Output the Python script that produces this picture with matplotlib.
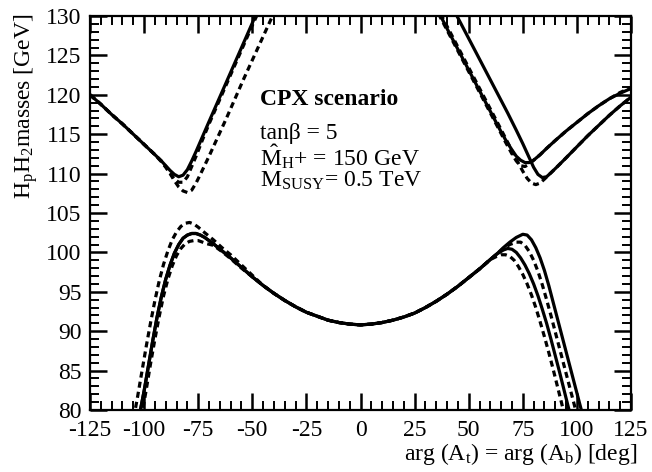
import matplotlib
matplotlib.use("Agg")
import matplotlib.pyplot as plt
from matplotlib.ticker import MultipleLocator

plt.rcParams["font.family"] = ["Liberation Serif", "DejaVu Serif"]
plt.rcParams["mathtext.fontset"] = "custom"
plt.rcParams["mathtext.rm"] = "Liberation Serif"
plt.rcParams["mathtext.it"] = "Liberation Serif:italic"
plt.rcParams["mathtext.bf"] = "Liberation Serif:bold"
plt.rcParams["axes.unicode_minus"] = False

# ---------------- H1 (lower mass) ----------------
# central part shared by all four H1 curves
h1_core_x = [-45, -40, -35, -30, -25, -20, -15, -10, -5, 0, 5, 10, 15, 20, 25, 30,
             35, 40, 45, 50, 55, 60]
h1_core_y = [95.8, 94.8, 93.9, 93.1, 92.4, 91.9, 91.4, 91.1, 90.9, 90.8, 90.9, 91.1,
             91.4, 91.8, 92.3, 93.0, 93.8, 94.7, 95.7, 96.8, 97.9, 99.1]

# left wings (negative phases)
h1_solid_left_x = [-102.4, -100, -98, -96, -94, -92, -90, -88, -86, -84, -82, -80, -78,
                   -76, -74, -72, -68, -64, -60, -55, -50]
h1_solid_left_y = [79.0, 82.4, 85.6, 88.8, 91.8, 94.4, 96.6, 98.4, 99.9, 101.0, 101.8,
                   102.2, 102.4, 102.4, 102.2, 101.9, 101.1, 100.2, 99.3, 98.1, 96.9]
h1_dash1_left_x = [-104.8, -103, -101, -99, -97, -95, -93, -91, -89, -87, -85, -83, -81,
                   -79, -77, -75, -72, -68, -64, -60, -55, -50]
h1_dash1_left_y = [79.0, 81.7, 84.9, 88.1, 91.1, 93.9, 96.4, 98.5, 100.2, 101.6, 102.6,
                   103.3, 103.7, 103.8, 103.6, 103.2, 102.5, 101.6, 100.6, 99.7, 98.4, 97.1]
h1_dash2_left_x = [-101.3, -99, -97, -95, -93, -91, -89, -87, -85, -83, -81, -79, -77,
                   -75, -73, -71, -68, -64, -60, -55, -50]
h1_dash2_left_y = [79.0, 82.6, 85.9, 89.0, 91.9, 94.5, 96.6, 98.3, 99.6, 100.5, 101.1,
                   101.4, 101.5, 101.5, 101.3, 101.1, 100.9, 100.1, 99.2, 98.0, 96.9]

# right wings (positive phases)
h1_solid_a_right_x = [63, 66, 69, 72, 75, 77, 79, 81, 83, 85, 87, 89, 91, 93, 95, 97,
                      99, 101, 103]
h1_solid_a_right_y = [99.8, 100.6, 101.3, 101.9, 102.3, 102.2, 101.6, 100.6, 99.3, 97.7,
                      95.8, 93.7, 91.6, 89.5, 87.4, 85.3, 83.2, 81.1, 79.0]
h1_solid_b_right_x = [63, 66, 68, 70, 72, 74, 76, 78, 80, 82, 84, 86, 88, 90, 92, 94,
                      96, 97.5]
h1_solid_b_right_y = [99.8, 100.3, 100.5, 100.4, 100.0, 99.3, 98.4, 97.3, 96.0, 94.5,
                      92.8, 91.0, 89.0, 86.9, 84.8, 82.6, 80.4, 78.8]
h1_dash1_right_x = [63, 66, 69, 72, 74, 76, 78, 80, 82, 84, 86, 88, 90, 92, 94, 96, 98,
                    100, 101]
h1_dash1_right_y = [99.8, 100.5, 101.0, 101.3, 101.3, 100.9, 100.1, 99.0, 97.6, 95.9,
                    94.0, 92.0, 89.9, 87.8, 85.7, 83.6, 81.5, 79.4, 78.4]
h1_dash2_right_x = [63, 65, 67, 69, 71, 73, 75, 77, 79, 81, 83, 85, 87, 89, 91, 93, 95]
h1_dash2_right_y = [99.5, 99.7, 99.7, 99.5, 99.0, 98.2, 97.2, 96.0, 94.6, 93.0, 91.2,
                    89.3, 87.3, 85.2, 83.0, 80.8, 78.6]

# ---------------- H2 (upper mass) ----------------
h2_solid_left_x = [-125, -120, -115, -110, -105, -100, -95, -92, -90, -88, -86, -84,
                   -82, -80, -78, -76, -73, -70, -66, -62, -58, -54, -50, -48.5]
h2_solid_left_y = [120.0, 118.8, 117.5, 116.3, 115.0, 113.7, 112.4, 111.6, 111.0, 110.4,
                   109.9, 109.6, 109.8, 110.5, 111.6, 112.8, 114.7, 116.6, 119.1, 121.6,
                   124.1, 126.6, 129.1, 130.1]
h2_dash1_left_x = [-125, -120, -115, -110, -105, -100, -95, -92, -90, -88, -86, -84,
                   -82, -80, -78, -76, -73, -70, -66, -62, -58, -54, -50, -47]
h2_dash1_left_y = [120.0, 118.8, 117.5, 116.3, 115.0, 113.7, 112.4, 111.6, 110.9, 110.1,
                   109.3, 108.9, 108.9, 109.6, 110.9, 112.2, 114.3, 116.3, 118.8, 121.3,
                   123.8, 126.3, 128.8, 130.6]
h2_dash2_left_x = [-125, -120, -115, -110, -105, -100, -95, -92, -90, -88, -86, -84,
                   -82, -80, -78, -76, -74, -70, -66, -62, -58, -54, -50, -46, -42, -40]
h2_dash2_left_y = [120.0, 118.8, 117.5, 116.3, 115.0, 113.7, 112.4, 111.5, 110.8, 110.0,
                   109.1, 108.3, 107.8, 107.6, 107.9, 108.8, 109.9, 112.2, 114.6, 117.0,
                   119.5, 122.0, 124.4, 126.8, 129.2, 130.4]

h2_solid_a_right_x = [36.5, 40, 44, 48, 52, 56, 60, 64, 67, 70, 72, 74, 76, 78, 80, 83,
                      86, 90, 95, 100, 105, 110, 115, 120, 125]
h2_solid_a_right_y = [130.3, 128.4, 126.3, 124.2, 122.1, 120.0, 117.9, 115.8, 114.3,
                      113.0, 112.2, 111.7, 111.4, 111.4, 111.7, 112.4, 113.2, 114.2,
                      115.4, 116.5, 117.6, 118.6, 119.5, 120.2, 120.8]
h2_solid_b_right_x = [44, 48, 52, 56, 60, 64, 68, 72, 75, 78, 80, 82, 84, 86, 88, 91,
                      95, 100, 105, 110, 115, 120, 125]
h2_solid_b_right_y = [130.3, 128.2, 126.1, 124.0, 121.9, 119.8, 117.7, 115.5, 113.8,
                      112.0, 110.8, 109.9, 109.5, 109.6, 110.1, 110.9, 112.0, 113.4,
                      114.8, 116.1, 117.4, 118.6, 119.7]
h2_dash1_right_x = [36, 40, 44, 48, 52, 56, 60, 64, 67, 70, 72, 74, 76, 78, 80, 83, 86,
                    90, 95, 100, 105, 110, 115, 120, 125]
h2_dash1_right_y = [130.3, 128.2, 126.1, 124.0, 121.9, 119.8, 117.7, 115.6, 114.0, 112.5,
                    111.6, 111.0, 110.9, 111.2, 111.7, 112.4, 113.2, 114.2, 115.4,
                    116.5, 117.6, 118.6, 119.5, 120.3, 120.9]
h2_dash2_right_x = [37, 40, 44, 48, 52, 56, 60, 64, 67, 70, 73, 75, 77, 79, 81, 83, 85,
                    88, 91, 95, 100, 105, 110, 115, 120, 125]
h2_dash2_right_y = [130.3, 128.7, 126.6, 124.5, 122.4, 120.3, 118.2, 116.1, 114.5, 112.9,
                    111.3, 110.3, 109.4, 108.8, 108.6, 108.8, 109.3, 110.1, 110.9, 112.0,
                    113.4, 114.8, 116.1, 117.4, 118.6, 119.7]

x_ticks = [-125, -100, -75, -50, -25, 0, 25, 50, 75, 100, 125]
y_ticks = [80, 85, 90, 95, 100, 105, 110, 115, 120, 125, 130]

info_title = "CPX scenario"
info_lines = ["tan\u03b2 = 5",
              r"$\hat{\mathrm{M}}_{\mathrm{H}}$+ = 150 GeV",
              r"M$_{\mathrm{SUSY}}$= 0.5 TeV"]
info_baselines = [139, 166, 187]

FS = 17
LW = 2.3
solid_kw = dict(color="black", lw=LW, solid_capstyle="butt")
dash_kw = dict(color="black", lw=LW, linestyle=(0, (1.9, 1.3)), dash_capstyle="butt")

fig = plt.figure(figsize=(6.52, 4.72), dpi=100)
ax = fig.add_axes([90 / 652, 62 / 472, 541 / 652, 394 / 472])

# H1 curves: left wing + shared core + right wing
h1_curves = [
    (h1_solid_left_x, h1_solid_left_y, h1_solid_a_right_x, h1_solid_a_right_y, solid_kw),
    (h1_solid_left_x, h1_solid_left_y, h1_solid_b_right_x, h1_solid_b_right_y, solid_kw),
    (h1_dash1_left_x, h1_dash1_left_y, h1_dash1_right_x, h1_dash1_right_y, dash_kw),
    (h1_dash2_left_x, h1_dash2_left_y, h1_dash2_right_x, h1_dash2_right_y, dash_kw),
]
for lx, ly, rx, ry, kw in h1_curves:
    ax.plot(lx + h1_core_x + rx, ly + h1_core_y + ry, **kw)

# H2 curves: the two branches leave the frame at the top
for xs, ys in [(h2_solid_left_x, h2_solid_left_y),
               (h2_solid_a_right_x, h2_solid_a_right_y),
               (h2_solid_b_right_x, h2_solid_b_right_y)]:
    ax.plot(xs, ys, **solid_kw)
for xs, ys in [(h2_dash1_left_x, h2_dash1_left_y),
               (h2_dash2_left_x, h2_dash2_left_y),
               (h2_dash1_right_x, h2_dash1_right_y),
               (h2_dash2_right_x, h2_dash2_right_y)]:
    ax.plot(xs, ys, **dash_kw)

ax.set_xlim(-125, 125)
ax.set_ylim(80, 130)
ax.set_xticks(x_ticks)
ax.set_yticks(y_ticks)
ax.xaxis.set_minor_locator(MultipleLocator(5))
ax.yaxis.set_minor_locator(MultipleLocator(1))
ax.tick_params(which="both", direction="in", top=True, right=True, labelsize=FS)
ax.tick_params(which="major", length=12.5, width=1.8)
ax.tick_params(which="minor", length=6.5, width=1.4)
ax.tick_params(axis="x", which="major", pad=7)
ax.tick_params(axis="y", which="major", pad=6)
for s in ax.spines.values():
    s.set_linewidth(1.6)

fig.text(637 / 652, 1 - 460 / 472,
         r"arg (A$_{\mathrm{t}}$) = arg (A$_{\mathrm{b}}$) [deg]",
         ha="right", va="baseline", fontsize=FS)
fig.text(26 / 652, 1 - 13 / 472, r"H$_{\mathrm{p}}$H$_{2}$masses [GeV]",
         rotation=90, ha="center", va="top", fontsize=FS)

fig.text(260 / 652, 1 - 105 / 472, info_title, fontsize=FS, fontweight="bold",
         ha="left", va="baseline")
for txt, base in zip(info_lines, info_baselines):
    fig.text(260 / 652, 1 - base / 472, txt, fontsize=FS, ha="left", va="baseline")

fig.savefig("out.png", dpi=100)
